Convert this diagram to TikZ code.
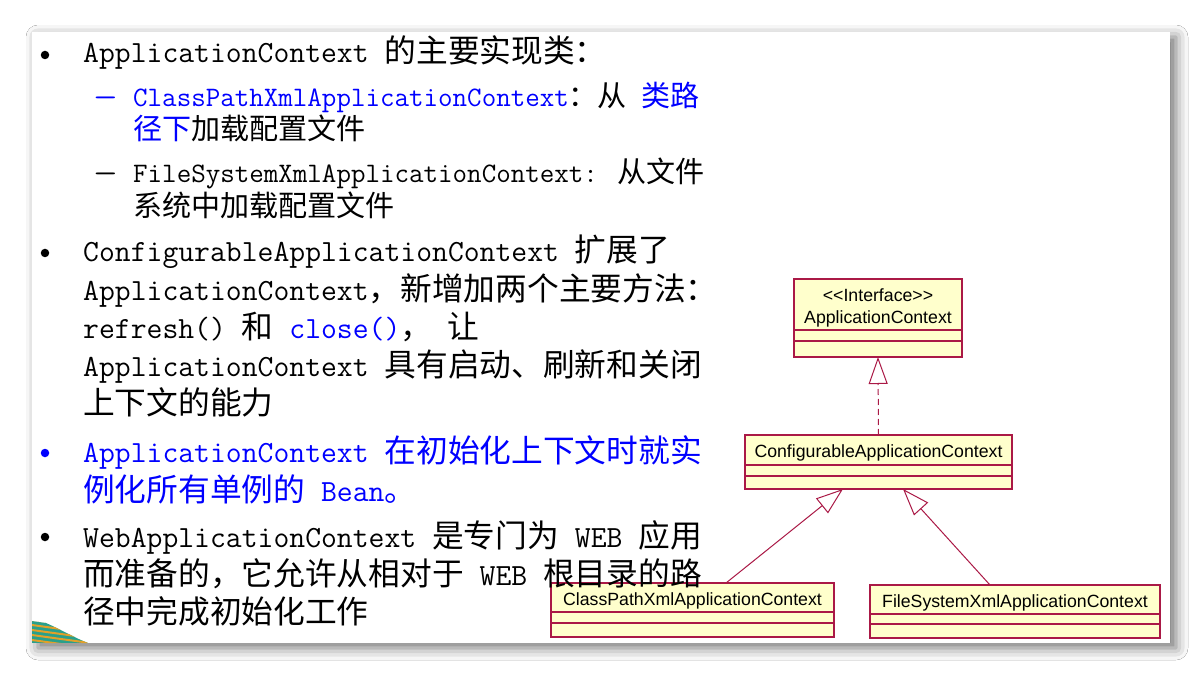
\documentclass[tikz,border=0pt]{standalone}
\usepackage{fontspec}
\newfontfamily\cjk[Scale=1.03]{Noto Sans CJK SC}
\newfontfamily\umlf{Liberation Sans}
\usetikzlibrary{arrows.meta,shadows.blur,positioning}
\definecolor{umlred}{RGB}{170,25,70}
\definecolor{umlyel}{RGB}{255,255,204}
\definecolor{hlblue}{RGB}{0,0,255}
\definecolor{decteal}{RGB}{40,160,140}
\definecolor{decorg}{RGB}{225,160,40}
\newcommand{\zh}[1]{{\cjk #1}}
\newcommand{\blu}[1]{\textcolor{hlblue}{#1}}
\begin{document}
\begin{tikzpicture}[x=1pt,y=-1pt,
  lvA/.style={anchor=base west,inner sep=0pt,font=\ttfamily\fontsize{30.8pt}{38pt}\selectfont},
  lvB/.style={anchor=base west,inner sep=0pt,font=\ttfamily\fontsize{28.2pt}{33pt}\selectfont},
  bul/.style={circle,fill,inner sep=0pt,minimum size=8.5pt},
  cls/.style={draw=umlred,fill=umlyel,line width=1.5pt,inner sep=0pt,outer sep=0pt,
    align=center,font=\umlf\fontsize{17.7pt}{22pt}\selectfont},
  clsname/.style={cls,text height=18pt,text depth=3pt},
  gen/.style={draw=umlred,line width=1pt,-{Triangle[open,length=27pt,width=19pt]}},
  impl/.style={gen,dash pattern=on 6pt off 4pt}]
%\draw[step=50,very thin,color=gray] (0,0) grid (1203,676);
\useasboundingbox (0,0) rectangle (1203,676);
\fill[white] (0,0) rectangle (1203,676);
\fill[white,blur shadow={shadow xshift=6pt,shadow yshift=-5pt,shadow blur radius=12pt,shadow opacity=55}] (32,32) rectangle (1170,643);
\begin{scope}
\clip (32,621) -- (46,623) .. controls (62,630) and (75,638) .. (88,643) -- (32,643) -- cycle;
\fill[decteal] (32,615) rectangle (90,643);
\foreach \k in {0,5,...,30} \draw[decorg,line width=2pt] (32,620+\k) -- (90,628+\k);
\end{scope}
% classes
\node[cls,minimum width=168pt,minimum height=51pt,anchor=north] (app) at (878,279) {\rule{0pt}{20pt}<<Interface>>\\ApplicationContext};
\node[cls,minimum width=168pt,minimum height=11pt,below=0pt of app] (appa) {};
\node[cls,minimum width=168pt,minimum height=16pt,below=0pt of appa] (appo) {};
\node[clsname,minimum width=267pt,minimum height=30pt,anchor=north] (cfg) at (878.5,435) {ConfigurableApplicationContext};
\node[cls,minimum width=267pt,minimum height=11pt,below=0pt of cfg] (cfga) {};
\node[cls,minimum width=267pt,minimum height=13pt,below=0pt of cfga] (cfgo) {};
\node[clsname,minimum width=283pt,minimum height=29pt,anchor=north] (cp) at (692.5,583) {ClassPathXmlApplicationContext};
\node[cls,minimum width=283pt,minimum height=11pt,below=0pt of cp] (cpa) {};
\node[cls,minimum width=283pt,minimum height=14pt,below=0pt of cpa] (cpo) {};
\node[clsname,minimum width=290pt,minimum height=29pt,anchor=north] (fs) at (1015,585) {FileSystemXmlApplicationContext};
\node[cls,minimum width=290pt,minimum height=10pt,below=0pt of fs] (fsa) {};
\node[cls,minimum width=290pt,minimum height=14pt,below=0pt of fsa] (fso) {};
\draw[impl] (cfg.north) -- (appo.south);
\draw[gen] ([xshift=33.5pt]cp.north) -- ([xshift=-35.5pt]cfgo.south);
\draw[gen] ([xshift=-25pt]fs.north) -- ([xshift=24.5pt]cfgo.south);
% text
\node[bul] (b1) at (45,55) {};
\node[lvA] (t1) at (83,63) {ApplicationContext \zh{的主要实现类：}};
\node[lvB,text=hlblue] (d1) at (93,107) {\scalebox{1.7}[1]{–}};
\node[lvB] (t2) at (133,107) {\blu{ClassPathXmlApplicationContext}\zh{：从} \blu{\zh{类路}}};
\node[lvB] (t3) at (133,140) {\blu{\zh{径下}}\zh{加载配置文件}};
\node[lvB] (d2) at (93,183) {\scalebox{1.7}[1]{–}};
\node[lvB] (t4) at (133,183) {FileSystemXmlApplicationContext: \zh{从文件}};
\node[lvB] (t5) at (133,217) {\zh{系统中加载配置文件}};
\node[bul] (b2) at (45,253) {};
\node[lvA] (t6) at (83,262) {ConfigurableApplicationContext \zh{扩展了}};
\node[lvA] (t7) at (83,301) {ApplicationContext\zh{，新增加两个主要方法：}};
\node[lvA] (t8) at (83,339) {refresh() \zh{和} \blu{close()}\zh{，} \zh{让}};
\node[lvA] (t9) at (83,377) {ApplicationContext \zh{具有启动、刷新和关闭}};
\node[lvA] (t10) at (83,415) {\zh{上下文的能力}};
\node[bul,fill=hlblue] (b3) at (45,453) {};
\node[lvA,text=hlblue] (t11) at (83,462) {ApplicationContext \zh{在初始化上下文时就实}};
\node[lvA,text=hlblue] (t12) at (83,501) {\zh{例化所有单例的} Bean\zh{。}};
\node[bul] (b4) at (45,537) {};
\node[lvA] (t13) at (83,547) {WebApplicationContext \zh{是专门为} WEB \zh{应用}};
\node[lvA] (t14) at (83,585) {\zh{而准备的，它允许从相对于} WEB \zh{根目录的路}};
\node[lvA] (t15) at (83,623) {\zh{径中完成初始化工作}};
\end{tikzpicture}
\end{document}
